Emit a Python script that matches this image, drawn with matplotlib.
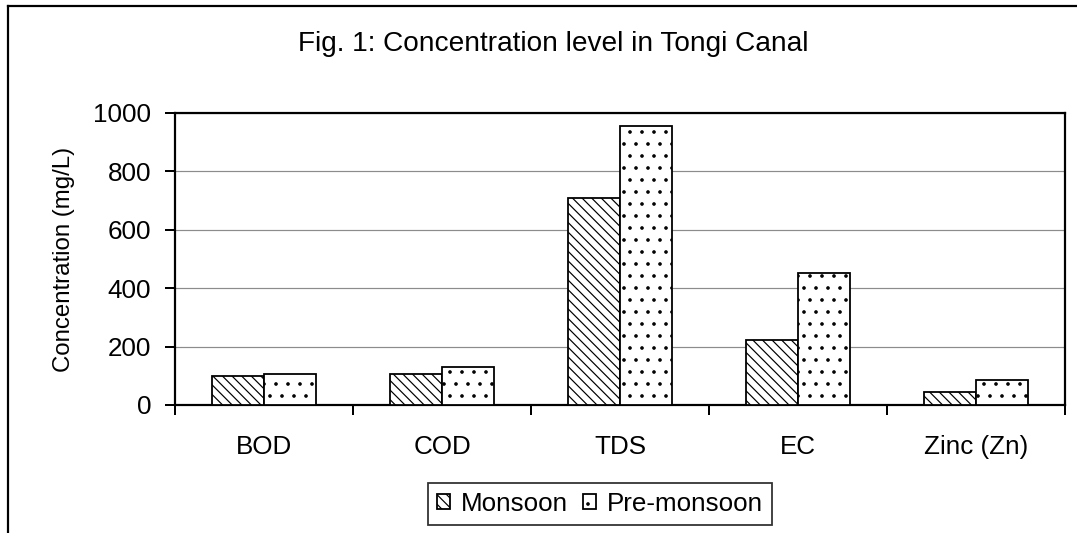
import numpy as np
import matplotlib
matplotlib.use('Agg')
import matplotlib.pyplot as plt
from matplotlib.lines import Line2D

plt.rcParams['font.family'] = ['Liberation Sans', 'DejaVu Sans']
plt.rcParams['hatch.linewidth'] = 0.6

# values
params = ['BOD', 'COD', 'TDS', 'EC', 'Zinc (Zn)']
monsoon = [99, 106, 708, 222, 44]
pre_monsoon = [106, 130, 957, 451, 85]
yticks = [0, 200, 400, 600, 800, 1000]

fig = plt.figure(figsize=(1077 / 144, 533 / 144), dpi=144)
ax = fig.add_axes([0.1625, 0.2402, 0.8264, 0.5478])

x = np.arange(len(params))
w = 0.29
ax.bar(x - w / 2, monsoon, w, facecolor='white', edgecolor='black',
       hatch='\\\\\\\\\\', linewidth=0.9, label='Monsoon', zorder=3)
ax.bar(x + w / 2, pre_monsoon, w, facecolor='white', edgecolor='black',
       hatch='..', linewidth=0.9, label='Pre-monsoon', zorder=3)

ax.set_xlim(-0.5, len(params) - 0.5)
ax.set_ylim(0, 1000)
ax.set_yticks(yticks)
ax.tick_params(axis='y', direction='out', length=5, width=1, labelsize=13, pad=7)

# category labels at centres, tick marks at the boundaries
ax.set_xticks(x)
ax.set_xticklabels(params, fontsize=13)
ax.tick_params(axis='x', which='major', length=0, pad=15)
ax.set_xticks(np.arange(len(params) + 1) - 0.5, minor=True)
ax.tick_params(axis='x', which='minor', direction='out', length=5, width=1)

ax.yaxis.grid(True, color='#8c8c8c', linewidth=0.6, zorder=0)
for s in ax.spines.values():
    s.set_linewidth(1.1)
    s.set_color('black')

ax.set_ylabel('Concentration (mg/L)', fontsize=12, labelpad=9)

fig.text(0.514, 0.918, 'Fig. 1: Concentration level in Tongi Canal',
         ha='center', va='center', fontsize=14)

leg = ax.legend(loc='center', bbox_to_anchor=(0.557, 0.0544),
                bbox_transform=fig.transFigure, ncol=2, fontsize=13,
                frameon=True, fancybox=False, edgecolor='black',
                handlelength=0.5, handleheight=0.5, handletextpad=0.4,
                columnspacing=0.6, borderpad=0.35, borderaxespad=0)
leg.get_frame().set_linewidth(0.9)

# outer chart border (only top and left visible in the crop)
fig.add_artist(Line2D([8 / 1077, 8 / 1077], [0, 1 - 6 / 533],
                      transform=fig.transFigure, color='black', linewidth=1.1))
fig.add_artist(Line2D([8 / 1077, 1], [1 - 6 / 533, 1 - 6 / 533],
                      transform=fig.transFigure, color='black', linewidth=1.1))

fig.savefig('out.png', dpi=144)
